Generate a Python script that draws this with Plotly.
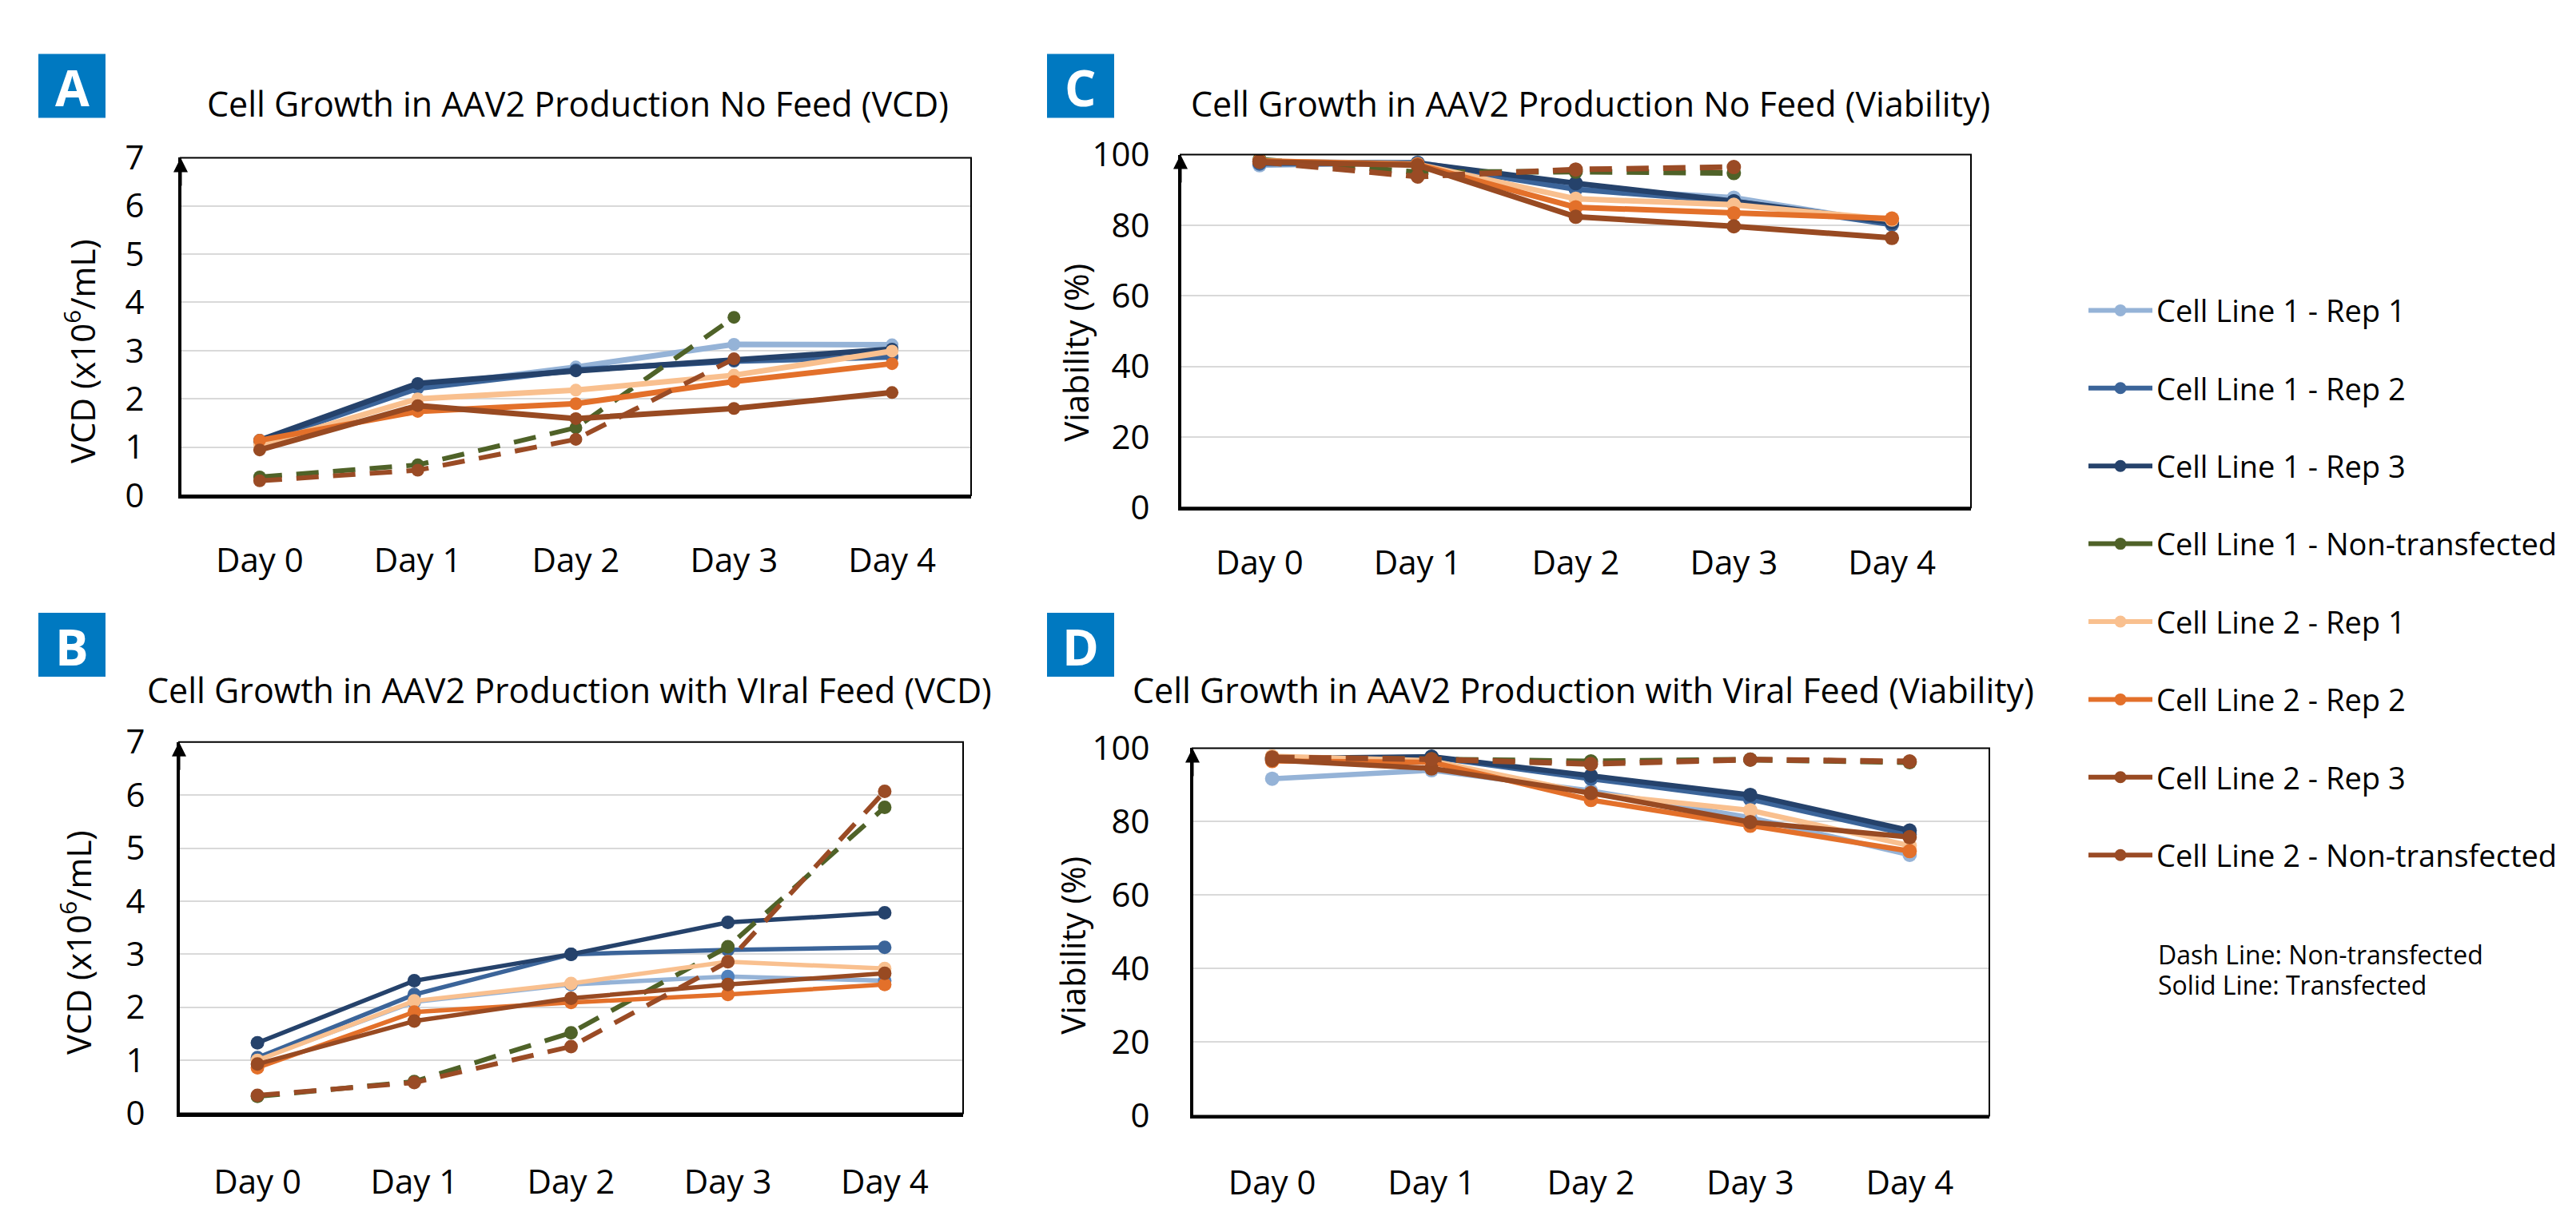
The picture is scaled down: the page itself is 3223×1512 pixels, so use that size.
import plotly.graph_objects as go

W, H = 3223, 1512
FONT = "Open Sans"

# ---------------- data ----------------
days = ["Day 0", "Day 1", "Day 2", "Day 3", "Day 4"]

series_names = [
    "Cell Line 1 - Rep 1",
    "Cell Line 1 - Rep 2",
    "Cell Line 1 - Rep 3",
    "Cell Line 1 - Non-transfected",
    "Cell Line 2 - Rep 1",
    "Cell Line 2 - Rep 2",
    "Cell Line 2 - Rep 3",
    "Cell Line 2 - Non-transfected",
]
series_colors = ["#95B3D7", "#3B6499", "#25426B", "#4F6228",
                 "#F9C08F", "#E3702A", "#984A22", "#9A4B25"]
series_dashed = [False, False, False, True, False, False, False, True]

# A: No feed, VCD (x10^6/mL)
vcd_no_feed = [
    [1.12, 2.25, 2.66, 3.13, 3.12],
    [1.10, 2.22, 2.60, 2.78, 2.87],
    [1.14, 2.32, 2.58, 2.80, 3.03],
    [0.38, 0.63, 1.40, 3.69, None],
    [1.05, 2.00, 2.18, 2.49, 2.99],
    [1.14, 1.74, 1.90, 2.36, 2.73],
    [0.94, 1.86, 1.59, 1.80, 2.13],
    [0.30, 0.52, 1.16, 2.83, None],
]
# B: Viral feed, VCD
vcd_viral_feed = [
    [1.02, 2.10, 2.43, 2.58, 2.50],
    [1.05, 2.24, 3.00, 3.08, 3.13],
    [1.33, 2.50, 3.00, 3.60, 3.78],
    [0.32, 0.60, 1.52, 3.14, 5.77],
    [1.00, 2.12, 2.45, 2.86, 2.73],
    [0.86, 1.91, 2.09, 2.24, 2.43],
    [0.93, 1.74, 2.17, 2.43, 2.64],
    [0.34, 0.58, 1.26, 2.86, 6.07],
]
# C: No feed, viability (%)
via_no_feed = [
    [97.0, 97.8, 90.5, 87.8, 80.5],
    [97.5, 97.5, 90.2, 86.8, 80.2],
    [98.0, 97.6, 91.9, 86.8, 80.8],
    [98.6, 95.0, 95.2, 94.8, None],
    [98.2, 97.3, 87.5, 85.8, 81.6],
    [98.2, 97.2, 85.1, 83.4, 81.9],
    [98.0, 97.0, 82.4, 79.7, 76.4],
    [98.0, 93.8, 95.8, 96.5, None],
]
# D: Viral feed, viability (%)
via_viral_feed = [
    [91.7, 94.0, 88.4, 81.1, 71.0],
    [97.0, 97.6, 91.7, 86.1, 76.5],
    [97.2, 97.7, 92.5, 87.3, 77.6],
    [97.5, 97.0, 96.4, 96.9, 96.2],
    [97.8, 96.6, 87.6, 83.1, 73.5],
    [96.5, 96.2, 85.9, 78.9, 72.0],
    [96.8, 94.5, 87.8, 79.9, 75.8],
    [97.5, 97.0, 95.7, 96.9, 96.4],
]

vcd_ticks = [0, 1, 2, 3, 4, 5, 6, 7]
via_ticks = [0, 20, 40, 60, 80, 100]

# ---------------- layout helpers ----------------
def fx(p):
    return p / W


def fy(p):
    return 1 - p / H


panels = [
    dict(letter="A", data=vcd_no_feed, ax="", dom_x=(226, 1215), dom_y=(174, 613),
         ticks=vcd_ticks, ytitle="VCD (x10<sup>6</sup>/mL)",
         title="Cell Growth in AAV2 Production No Feed (VCD)",
         tpos=(723, 103), ytpos=(101, 426), badge=(48, 39), ygap=34, xgap=42,
         lw=7, ms=16, dlw=6),
    dict(letter="B", data=vcd_viral_feed, ax="2", dom_x=(224, 1205), dom_y=(934, 1417),
         ticks=vcd_ticks, ytitle="VCD (x10<sup>6</sup>/mL)",
         title="Cell Growth in AAV2 Production with VIral Feed (VCD)",
         tpos=(712, 866), ytpos=(96, 1195), badge=(48, 766), ygap=31, xgap=46,
         lw=5.5, ms=17, dlw=6),
    dict(letter="C", data=via_no_feed, ax="3", dom_x=(1477, 2466), dom_y=(170, 629),
         ticks=via_ticks, ytitle="Viability (%)",
         title="Cell Growth in AAV2 Production No Feed (Viability)",
         tpos=(1990, 103), ytpos=(1346, 428), badge=(1310, 39), ygap=27, xgap=29,
         lw=7, ms=18, dlw=7),
    dict(letter="D", data=via_viral_feed, ax="4", dom_x=(1492, 2489), dom_y=(942, 1420),
         ticks=via_ticks, ytitle="Viability (%)",
         title="Cell Growth in AAV2 Production with Viral Feed (Viability)",
         tpos=(1981, 866), ytpos=(1342, 1199), badge=(1310, 766), ygap=42, xgap=44,
         lw=6.5, ms=18, dlw=7),
]

fig = go.Figure()
shapes = []
annotations = []
layout_axes = {}

for p in panels:
    xa, ya = "x" + p["ax"], "y" + p["ax"]
    for i, vals in enumerate(p["data"]):
        color = series_colors[i]
        mcolor = color
        if p["letter"] == "B" and i == 0:
            mcolor = "#4F81BD"
        fig.add_trace(go.Scatter(
            x=days, y=vals, mode="lines+markers",
            line=dict(color=color, width=p["dlw"] if series_dashed[i] else p["lw"],
                      dash="28px,18px" if series_dashed[i] else "solid"),
            marker=dict(size=p["ms"], color=mcolor),
            connectgaps=False, showlegend=False, hoverinfo="skip",
            xaxis=xa, yaxis=ya,
        ))

    x0, x1 = p["dom_x"]
    y0, y1 = p["dom_y"]
    layout_axes["xaxis" + p["ax"]] = dict(
        domain=[fx(x0), fx(x1)], anchor=ya, type="category",
        categoryorder="array", categoryarray=days, range=[-0.5, 4.5],
        showline=True, linecolor="black", linewidth=4, showgrid=False,
        zeroline=False, ticks="outside", ticklen=p["xgap"],
        tickcolor="rgba(0,0,0,0)",
        tickfont=dict(family=FONT, size=42, color="black"), fixedrange=True,
    )
    layout_axes["yaxis" + p["ax"]] = dict(
        domain=[fy(y1), fy(y0)], anchor=xa,
        range=[p["ticks"][0], p["ticks"][-1]], tickvals=p["ticks"],
        showline=True, linecolor="black", linewidth=3,
        showgrid=True, gridcolor="#D9D9D9", gridwidth=2, zeroline=False,
        ticks="outside", ticklen=p["ygap"], tickcolor="rgba(0,0,0,0)",
        tickfont=dict(family=FONT, size=42, color="black"), fixedrange=True,
    )
    # plot frame
    shapes.append(dict(type="rect", xref=xa + " domain", yref=ya + " domain",
                       x0=0, x1=1, y0=0, y1=1, line=dict(color="black", width=2),
                       layer="above"))
    # arrow on the y axis
    annotations.append(dict(xref=xa + " domain", yref=ya + " domain", x=0, y=1,
                            ax=0, ay=45, showarrow=True, arrowhead=2, arrowsize=1.2,
                            arrowwidth=3, arrowcolor="black", text=" "))
    # title
    annotations.append(dict(xref="paper", yref="paper", x=fx(p["tpos"][0]),
                            y=fy(p["tpos"][1]), xanchor="center", yanchor="middle",
                            showarrow=False, text=p["title"],
                            font=dict(family=FONT, size=43, color="black")))
    # y title
    annotations.append(dict(xref="paper", yref="paper", x=fx(p["ytpos"][0]),
                            y=fy(p["ytpos"][1]), xanchor="center", yanchor="middle",
                            showarrow=False, text=p["ytitle"], textangle=-90,
                            font=dict(family=FONT, size=42, color="black")))
    # badge
    bx, by = p["badge"]
    shapes.append(dict(type="rect", xref="paper", yref="paper",
                       x0=fx(bx), x1=fx(bx + 84), y0=fy(by + 83), y1=fy(by),
                       fillcolor="#0079C1", line=dict(width=0)))
    annotations.append(dict(xref="paper", yref="paper", x=fx(bx + 42), y=fy(by + 43),
                            xanchor="center", yanchor="middle", showarrow=False,
                            text=p["letter"],
                            font=dict(family=FONT, size=62, color="white", weight="bold")))

# legend-only entries (solid samples as in the reference)
for i, name in enumerate(series_names):
    fig.add_trace(go.Scatter(
        x=[None], y=[None], mode="lines+markers", name=name, legendgroup=name,
        line=dict(color=series_colors[i], width=6),
        marker=dict(size=15, color=series_colors[i]),
        showlegend=True, xaxis="x", yaxis="y", hoverinfo="skip",
    ))

annotations.append(dict(xref="paper", yref="paper", x=fx(2698), y=fy(1210),
                        xanchor="left", yanchor="middle", showarrow=False,
                        text="Dash Line: Non-transfected",
                        font=dict(family=FONT, size=32, color="black")))
annotations.append(dict(xref="paper", yref="paper", x=fx(2698), y=fy(1250),
                        xanchor="left", yanchor="middle", showarrow=False,
                        text="Solid Line: Transfected",
                        font=dict(family=FONT, size=32, color="black")))

fig.update_layout(
    width=W, height=H, margin=dict(l=0, r=0, t=0, b=0),
    paper_bgcolor="white", plot_bgcolor="white",
    font=dict(family=FONT, color="black"),
    showlegend=True,
    legend=dict(x=fx(2608), y=fy(340), xanchor="left", yanchor="top",
                font=dict(family=FONT, size=38, color="black"),
                itemwidth=80, tracegroupgap=45, bgcolor="rgba(0,0,0,0)"),
    shapes=shapes, annotations=annotations,
    **layout_axes,
)

fig.write_html("out.html", include_plotlyjs=True, full_html=True,
               config={"displayModeBar": False},
               post_script="document.body.style.margin='0';")
